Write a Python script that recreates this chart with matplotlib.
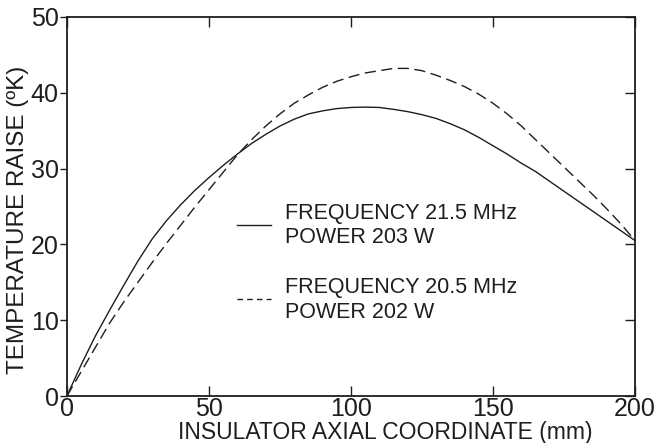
import matplotlib
matplotlib.use("Agg")
import matplotlib.pyplot as plt

plt.rcParams['font.family'] = ['Liberation Sans', 'DejaVu Sans']

# axial coordinate (mm)
x_mm = [0, 5, 10, 15, 20, 25, 30, 35, 40, 45, 50, 55, 60, 65, 70, 75, 80, 85, 90, 95, 100,
        105, 110, 115, 120, 125, 130, 135, 140, 145, 150, 155, 160, 165, 170, 175, 180,
        185, 190, 195, 200]
# 21.5 MHz, 203 W (solid)
temp_21_5 = [0, 4.1, 7.9, 11.3, 14.6, 17.8, 20.7, 23.1, 25.2, 27.1, 28.8, 30.4, 31.9, 33.3,
             34.5, 35.6, 36.5, 37.2, 37.6, 37.9, 38.05, 38.1, 38.05, 37.8, 37.5, 37.1, 36.6,
             35.9, 35.1, 34.1, 33.0, 31.9, 30.7, 29.6, 28.3, 27.0, 25.7, 24.4, 23.1, 21.8, 20.5]
# 20.5 MHz, 202 W (dashed)
temp_20_5 = [0, 3.2, 6.4, 9.6, 12.4, 15.0, 17.6, 20.1, 22.5, 24.9, 27.2, 29.5, 31.8, 33.8,
             35.6, 37.2, 38.6, 39.7, 40.7, 41.5, 42.1, 42.6, 42.9, 43.2, 43.2, 42.9, 42.3,
             41.6, 40.8, 39.8, 38.6, 37.2, 35.6, 33.8, 32.0, 30.2, 28.4, 26.6, 24.7, 22.7, 20.5]

xticks = [0, 50, 100, 150, 200]
yticks = [0, 10, 20, 30, 40, 50]

legend_rows = [
    ('FREQUENCY 21.5 MHz', 'POWER 203 W'),
    ('FREQUENCY 20.5 MHz', 'POWER 202 W'),
]

ink = '#1e1e1e'

fig = plt.figure(figsize=(6.56, 4.43), dpi=100)
ax = fig.add_axes([0.102, 0.106, 0.866, 0.856])

ax.plot(x_mm, temp_21_5, color=ink, lw=1.0, ls='-')
ax.plot(x_mm, temp_20_5, color=ink, lw=1.0, ls=(0, (8, 4)))

ax.set_xlim(0, 200)
ax.set_ylim(0, 50)
ax.set_xticks(xticks)
ax.set_yticks(yticks)
ax.tick_params(axis='x', direction='in', top=True, length=7, width=1, labelsize=18, pad=1,
               colors=ink)
ax.tick_params(axis='y', left=True, right=False, direction='out', length=5, width=1,
               labelsize=18, pad=1, colors=ink)
for s in ax.spines.values():
    s.set_linewidth(1.3)
    s.set_color(ink)

ax2 = ax.twinx()
ax2.set_ylim(0, 50)
ax2.set_yticks(yticks)
ax2.set_yticklabels([])
ax2.tick_params(axis='y', direction='in', length=7, width=1, colors=ink)
for s in ax2.spines.values():
    s.set_visible(False)

ax.set_xlabel('INSULATOR AXIAL COORDINATE (mm)', fontsize=16.5, labelpad=0, x=0.56, color=ink)
ax.set_ylabel('TEMPERATURE RAISE (ºK)', fontsize=17.5, labelpad=1, y=0.465, color=ink)

ax.plot([0.30, 0.36], [0.45, 0.45], transform=ax.transAxes, color=ink, lw=1.0)
ax.plot([0.30, 0.36], [0.255, 0.255], transform=ax.transAxes, color=ink, lw=1.0,
        ls=(0, (4, 3)))
tk = dict(transform=ax.transAxes, fontsize=15.5, va='center', ha='left', color=ink)
ax.text(0.384, 0.482, legend_rows[0][0], **tk)
ax.text(0.384, 0.418, legend_rows[0][1], **tk)
ax.text(0.384, 0.287, legend_rows[1][0], **tk)
ax.text(0.384, 0.221, legend_rows[1][1], **tk)

fig.savefig('out.png', dpi=100)
